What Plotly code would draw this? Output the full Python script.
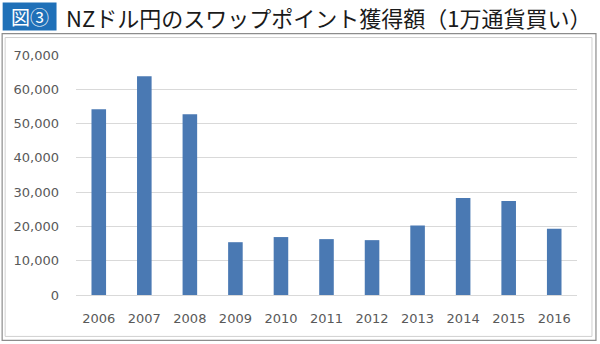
import plotly.graph_objects as go

# Annual swap-point earnings, NZD/JPY, per 10,000 currency units bought
years = ["2006", "2007", "2008", "2009", "2010", "2011",
         "2012", "2013", "2014", "2015", "2016"]
swap_points = [54200, 63800, 52700, 15400, 16900, 16300,
               16000, 20300, 28300, 27400, 19300]
y_ticks = [0, 10000, 20000, 30000, 40000, 50000, 60000, 70000]
y_tick_labels = ["0", "10,000", "20,000", "30,000", "40,000",
                 "50,000", "60,000", "70,000"]

title_badge = "図③"
title_text = "NZドル円のスワップポイント獲得額（1万通貨買い）"

W, H = 600, 344
ML, MR, MT, MB = 75.5, 22.5, 54.5, 49
PW, PH = W - ML - MR, H - MT - MB


def px(x):
    return (x - ML) / PW


def py(y):
    return (H - MB - y) / PH


BAR = "#4a79b3"
TICK = "#595959"
GRID = "#d9d9d9"
CJK = "Noto Sans CJK JP"
NUM = "DejaVu Sans"

fig = go.Figure(
    go.Bar(x=years, y=swap_points, marker=dict(color=BAR, line=dict(width=0)),
           hoverinfo="x+y")
)

shapes = [
    # outer frame
    dict(type="rect", xref="paper", yref="paper",
         x0=px(1.5), x1=px(596.5), y0=py(340.5), y1=py(33),
         line=dict(color="#8c8c8c", width=1.2), fillcolor="rgba(0,0,0,0)",
         layer="below"),
    # inner frame
    dict(type="rect", xref="paper", yref="paper",
         x0=px(4.5), x1=px(592.5), y0=py(336.5), y1=py(37),
         line=dict(color="#d0d0d0", width=1), fillcolor="rgba(0,0,0,0)",
         layer="below"),
    # title badge
    dict(type="rect", xref="paper", yref="paper",
         x0=px(2), x1=px(56), y0=py(30), y1=py(2),
         line=dict(width=0), fillcolor="#1f70b8", layer="below"),
]

annotations = [
    dict(text=title_badge, xref="paper", yref="paper", x=px(29), y=py(16),
         xanchor="center", yanchor="middle", showarrow=False,
         font=dict(family=CJK, size=19, color="white")),
    dict(text=title_text, xref="paper", yref="paper", x=px(63), y=py(16.5),
         xanchor="left", yanchor="middle", showarrow=False,
         font=dict(family=CJK, size=22, color="#1a1a1a")),
]

fig.update_layout(
    width=W, height=H,
    margin=dict(l=ML, r=MR, t=MT, b=MB, pad=0),
    paper_bgcolor="white", plot_bgcolor="white",
    bargap=0.68,
    showlegend=False,
    shapes=shapes,
    annotations=annotations,
    xaxis=dict(showgrid=False, showline=False, zeroline=False,
               ticks="", ticklabelstandoff=14,
               tickfont=dict(family=NUM, size=13, color=TICK),
               fixedrange=True),
    yaxis=dict(range=[0, 70000], tickvals=y_ticks, ticktext=y_tick_labels,
               showgrid=True, gridcolor=GRID, gridwidth=1,
               zeroline=True, zerolinecolor=GRID, zerolinewidth=1,
               showline=False, ticks="", ticklabelstandoff=16,
               tickfont=dict(family=NUM, size=13, color=TICK),
               fixedrange=True),
)

fig.write_html("out.html")
